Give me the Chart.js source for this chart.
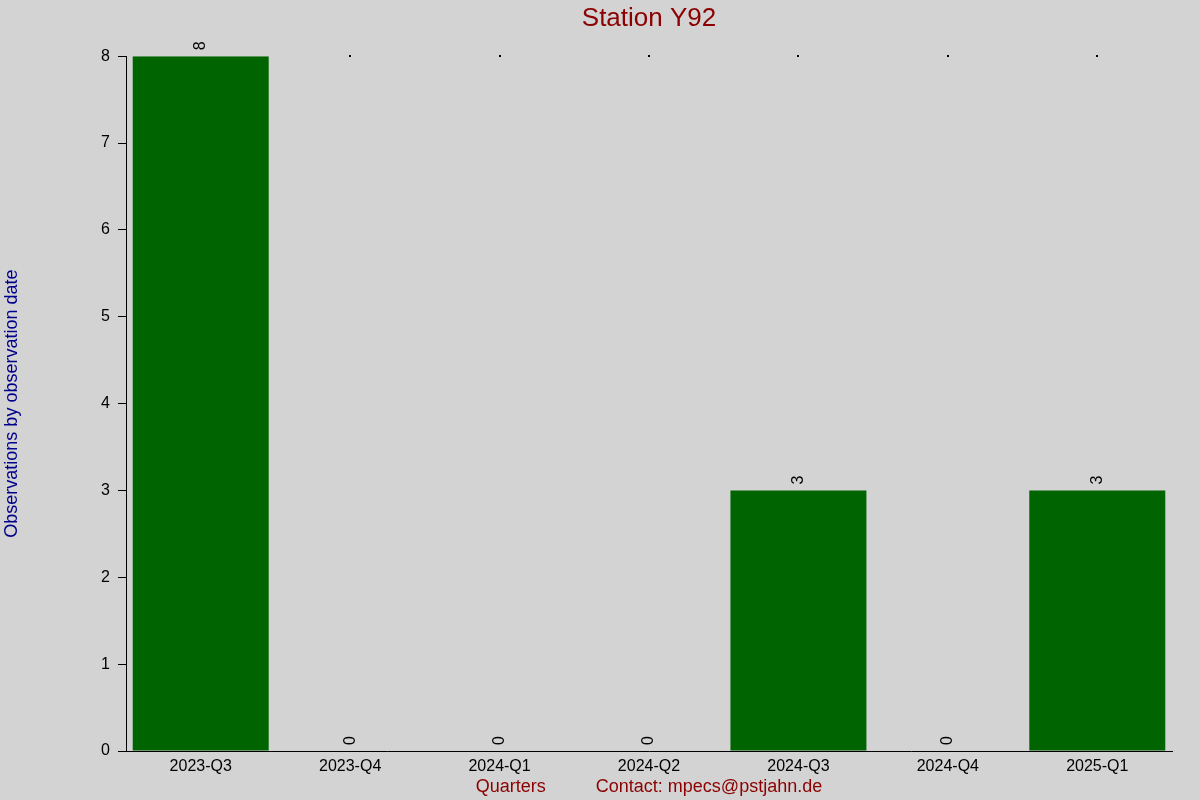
<!DOCTYPE html>
<html>
<head>
<meta charset="utf-8">
<script src="https://cdn.jsdelivr.net/npm/chart.js@4/dist/chart.umd.min.js"></script>
<style>
  html, body { margin: 0; padding: 0; background: #d3d3d3; }
  canvas { display: block; }
</style>
</head>
<body>
<canvas id="chart" width="1200" height="800"></canvas>
<script>
const quarters = ['2023-Q3', '2023-Q4', '2024-Q1', '2024-Q2', '2024-Q3', '2024-Q4', '2025-Q1'];
const observations = [8, 0, 0, 0, 3, 0, 3];
const yTicks = [0, 1, 2, 3, 4, 5, 6, 7, 8];

const chartTitle = 'Station Y92';
const yTitle = 'Observations by observation date';
const xTitle = 'Quarters          Contact: mpecs@pstjahn.de';

const FONT = 'Liberation Sans, Arial, sans-serif';

// grey page behind everything
const background = {
  id: 'background',
  beforeDraw(chart) {
    const ctx = chart.ctx;
    ctx.save();
    ctx.fillStyle = '#d3d3d3';
    ctx.fillRect(0, 0, chart.width, chart.height);
    ctx.restore();
  }
};

// small marker at the top of each column, drawn under the bars
const topMarks = {
  id: 'topMarks',
  beforeDatasetsDraw(chart) {
    const ctx = chart.ctx;
    const yScale = chart.scales.y;
    const top = yScale.getPixelForValue(yScale.max);
    ctx.save();
    ctx.fillStyle = '#000';
    chart.getDatasetMeta(0).data.forEach((bar, i) => {
      if (observations[i] >= yScale.max) return;
      ctx.fillRect(Math.round(bar.x) - 1, Math.round(top) - 1, 2, 2);
    });
    ctx.restore();
  }
};

// rotated value labels above each column
const valueLabels = {
  id: 'valueLabels',
  afterDatasetsDraw(chart) {
    const ctx = chart.ctx;
    const meta = chart.getDatasetMeta(0);
    ctx.save();
    ctx.fillStyle = '#000';
    meta.data.forEach((bar, i) => {
      ctx.save();
      ctx.translate(bar.x, bar.y - 6);
      ctx.rotate(-Math.PI / 2);
      ctx.font = '16px ' + FONT;
      ctx.textAlign = 'left';
      ctx.textBaseline = 'middle';
      ctx.fillText(String(observations[i]), 0, 0);
      ctx.restore();
    });
    ctx.restore();
  }
};

const ctx = document.getElementById('chart').getContext('2d');

new Chart(ctx, {
  type: 'bar',
  data: {
    labels: quarters,
    datasets: [{
      data: observations,
      backgroundColor: '#006400',
      borderWidth: 0,
      barPercentage: 0.91,
      categoryPercentage: 1.0
    }]
  },
  options: {
    responsive: false,
    devicePixelRatio: 1,
    animation: false,
    layout: { padding: { left: 0, right: 28, top: 0, bottom: 0 } },
    plugins: {
      legend: { display: false },
      tooltip: { enabled: false },
      title: {
        display: true,
        text: chartTitle,
        color: '#8b0000',
        fullSize: false,
        font: { family: FONT, size: 26, weight: 'normal' },
        padding: { top: 3, bottom: 22 }
      }
    },
    scales: {
      x: {
        grid: { display: false },
        border: { display: true, color: '#000', width: 1 },
        ticks: {
          color: '#000',
          font: { family: FONT, size: 16 },
          padding: -2,
          maxRotation: 0
        },
        title: {
          display: true,
          text: xTitle,
          color: '#8b0000',
          font: { family: FONT, size: 18 },
          padding: { top: 3, bottom: 2 }
        },
        afterFit(scale) { scale.height = 49; }
      },
      y: {
        min: 0,
        max: 8,
        afterBuildTicks(scale) { scale.ticks = yTicks.map(v => ({ value: v })); },
        grid: {
          display: true,
          drawOnChartArea: false,
          drawTicks: true,
          tickLength: 8,
          color: '#000'
        },
        border: { display: true, color: '#000', width: 1 },
        ticks: {
          color: '#000',
          font: { family: FONT, size: 16 },
          padding: 8
        },
        title: {
          display: true,
          text: yTitle,
          color: '#00008b',
          font: { family: FONT, size: 18 },
          padding: { top: 1, bottom: 0 }
        },
        afterFit(scale) { scale.width = 126; }
      }
    }
  },
  plugins: [background, topMarks, valueLabels]
});
</script>
</body>
</html>
